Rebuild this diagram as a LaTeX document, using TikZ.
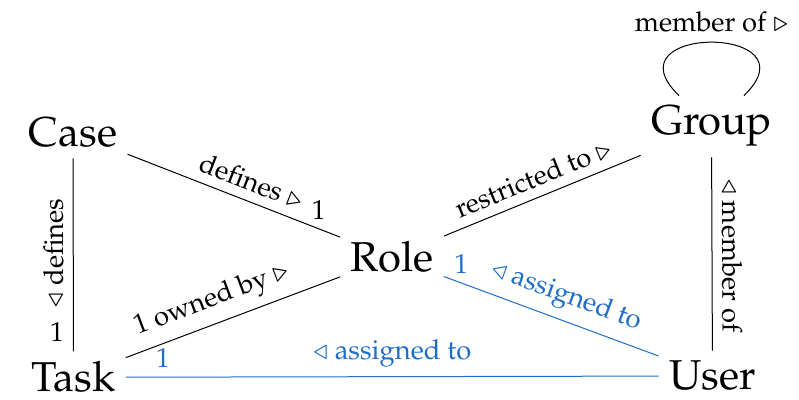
\documentclass[tikz,border=0pt,11pt]{standalone}
\usepackage[T1]{fontenc}
\usepackage{mathpazo}
\usepackage{amsmath}
\usepackage{tikz}
\usetikzlibrary{arrows,positioning,calc}
\definecolor{blue}{RGB}{30,110,200}
\colorlet{assigncol}{blue}
\tikzset{entity/.style={font=\fontsize{16.7}{20}\selectfont,inner sep=4pt,anchor=base}}
\tikzset{rel/.style={sloped,above}}
\def\ltri{$\triangleleft$}
\def\rtri{$\triangleright$}

\begin{document}
\begin{tikzpicture}
  \useasboundingbox (0,0) rectangle (319.6pt,160pt);

  \node[entity] (case) at (29.2pt,101.2pt) {Case};
  \node[entity] (task) at (29.4pt,3.2pt) {Task};
  \node[entity] (role) at (156.8pt,51.2pt) {Role};
  \node[entity] (group) at (284.6pt,106pt) {Group};
  \node[entity] (user) at (285pt,4pt) {User};

  %% ownership and restrictions
  \draw (case) -- node[rel,pos=0.55] {defines \rtri} node[above,pos=0.9] {1} (role);
  \draw (task) -- node[rel,allow upside down,pos=0.51] {\ltri{} defines} node[left,pos=0.1] {1} (case);
  \draw (task) -- node[rel,pos=0.44] {1 owned by \rtri} (role);
  \draw (role) -- node[rel,pos=0.49] {restricted to \rtri} (group);
  \draw (group) -- node[rel,pos=0.51] {\ltri{} member of} (user);
  \draw ([xshift=-13pt]group.north) to[out=136,in=44,distance=41pt]
       node[above] {member of \rtri} ([xshift=13pt]group.north);

  %% assignments
  \draw[assigncol] (role) -- node[above,pos=0.08] {1} node[rel,pos=0.53] {\ltri{} assigned to} (user);
  \draw[assigncol] (task) -- node[above,pos=0.07] {1} node[rel,pos=0.5] {\ltri{} assigned to} (user);
\end{tikzpicture}
\end{document}
